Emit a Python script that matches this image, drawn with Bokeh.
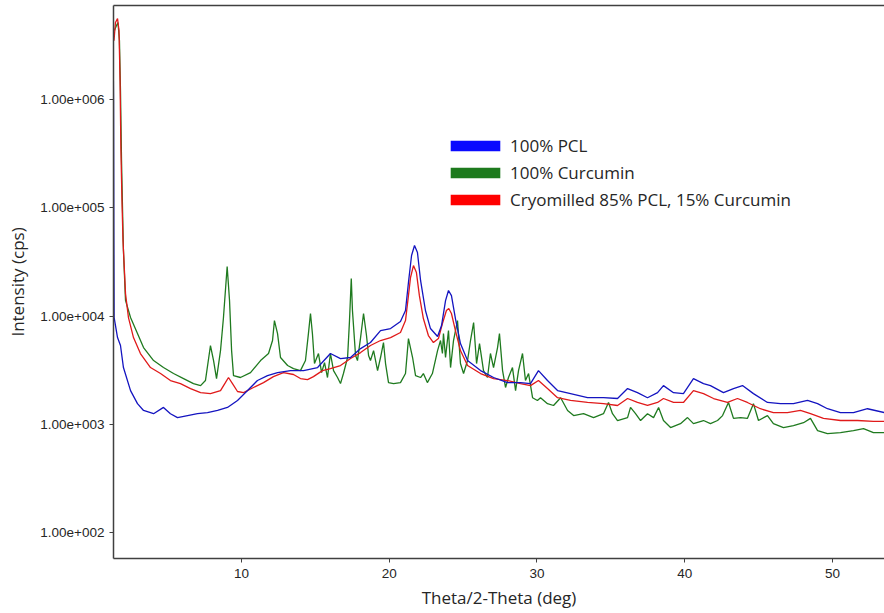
from bokeh.plotting import figure
from bokeh.models import (Range1d, FixedTicker, CustomJSTickFormatter, LinearAxis,
                          Legend, LegendItem)
from bokeh.embed import file_html
from bokeh.resources import INLINE

# ---------------- data ----------------
theta_pcl = [1.30, 1.34, 1.36, 1.38, 1.61, 1.81, 2.01, 2.49, 2.96, 3.37, 4.05, 4.72, 5.19, 5.67,
             6.35, 7.02, 7.70, 8.38, 9.05, 9.73, 10.41, 11.08, 11.76, 12.44, 13.32, 14.20, 15.15,
             16.02, 16.70, 17.38, 18.06, 18.73, 19.41, 20.09, 20.76, 21.10, 21.30, 21.51, 21.71,
             21.91, 22.12, 22.45, 22.79, 23.27, 23.54, 23.81, 24.01, 24.21, 24.48, 24.82, 25.30,
             26.18, 27.06, 28.00, 28.88, 29.56, 30.10, 30.71, 31.39, 32.27, 33.42, 34.50, 35.45,
             36.13, 36.80, 37.48, 38.16, 38.56, 39.24, 39.91, 40.59, 41.27, 41.74, 42.62, 43.30,
             43.91, 44.65, 45.60, 46.48, 47.36, 48.31, 48.99, 49.66, 50.54, 51.42, 52.37, 53.52]
int_pcl = [5.0e6, 9.8e5, 6.2e4, 9730, 6360, 5370, 3360, 2060, 1560, 1350, 1260, 1440, 1260, 1160,
           1210, 1260, 1290, 1350, 1440, 1670, 2060, 2550, 2830, 3020, 3150, 3150, 3360,
           4530, 4070, 4160, 5030, 5720, 7380, 7700, 8930, 11300, 20500, 36400, 45000,
           38700, 21400, 11300, 7700, 6500, 8200, 13960, 17300, 15500, 9530, 5600, 3900,
           3150, 2720, 2440, 2440, 2390, 3150, 2550, 2060, 1930, 1770, 1770, 1740,
           2150, 1970, 1770, 1970, 2290, 1970, 1930, 2660, 2390, 2290, 1970, 2150,
           2290, 1930, 1600, 1560, 1560, 1670, 1560, 1400, 1290, 1290, 1400, 1290]

theta_cur = [1.40, 1.54, 1.64, 1.74, 1.81, 1.88, 1.95, 2.01, 2.15, 2.49, 2.96, 3.37, 4.05, 4.72,
             5.40, 6.08, 6.75, 7.23, 7.56, 7.90, 8.11, 8.31, 8.58, 8.78, 9.03, 9.19, 9.33, 9.46,
             9.93, 10.61, 11.29, 11.83, 12.10, 12.23, 12.44, 12.64, 13.12, 13.52, 13.99, 14.33,
             14.53, 14.67, 14.80, 14.94, 15.21, 15.42, 15.62, 15.82, 16.02, 16.23, 16.50, 16.70,
             16.90, 17.18, 17.31, 17.43, 17.51, 17.72, 17.85, 18.06, 18.26, 18.46, 18.60, 18.73,
             18.94, 19.21, 19.41, 19.61, 19.75, 19.95, 20.29, 20.76, 21.10, 21.30, 21.58, 21.78,
             22.12, 22.31, 22.58, 22.92, 23.27, 23.47, 23.60, 23.67, 23.81, 24.01, 24.15, 24.35,
             24.62, 24.82, 25.03, 25.30, 25.50, 25.71, 25.91, 26.11, 26.38, 26.65, 26.85, 27.06,
             27.33, 27.46, 27.67, 27.87, 28.07, 28.34, 28.55, 28.75, 29.02, 29.22, 29.43, 29.70,
             30.03, 30.24, 30.71, 31.12, 31.60, 32.07, 32.48, 33.15, 33.83, 34.50, 34.84, 35.11,
             35.45, 36.13, 36.33, 36.67, 37.01, 37.48, 37.89, 38.23, 38.56, 39.04, 39.71, 40.19,
             40.59, 41.27, 41.74, 42.22, 42.56, 42.96, 43.30, 43.78, 44.24, 44.65, 44.99, 45.60,
             46.00, 46.68, 47.36, 48.04, 48.51, 48.99, 49.66, 50.54, 51.42, 52.10, 52.77, 53.52]
int_cur = [4.35e6, 4.83e6, 5.15e6, 3.52e6, 1.21e6, 2.74e5, 9.5e4, 4.04e4, 1.40e4, 9730, 6920, 5140, 3900, 3360,
           2960, 2660, 2390, 2290, 2550, 5370, 3900, 2660, 4820, 9730, 28800, 13960, 4820, 2830,
           2720, 3020, 3900, 4530, 5970, 9120, 6920, 4160, 3510, 3290, 3150, 3900,
           6920, 10600, 6920, 3660, 4530, 3020, 3730, 2720, 4530, 3150, 2720, 2390,
           2960, 4160, 9120, 22300, 11300, 4340, 3900, 6360, 10600, 6640, 4340, 3900,
           4820, 3150, 4160, 5720, 3660, 2440, 2390, 2440, 2960, 6220, 4160, 2830,
           2720, 2960, 2440, 2960, 4820, 5970, 4530, 6920, 4160, 7380, 3360, 5970,
           9120, 3660, 2960, 3900, 5970, 8750, 3660, 5600, 3150, 2720, 4530, 3360,
           5140, 6920, 3150, 2200, 2720, 3360, 2060, 3150, 4530, 2550, 2960, 1770,
           1670, 1770, 1560, 1500, 1770, 1350, 1210, 1260, 1160, 1260, 1600, 1260,
           1090, 1160, 1440, 1260, 1090, 1260, 1160, 1440, 1090, 938, 1020, 1160,
           1020, 1090, 1020, 1090, 1210, 1600, 1140, 1160, 1140, 1560, 1090, 1210,
           1020, 938, 980, 1040, 1140, 880, 826, 843, 880, 918, 843, 843]

theta_mix = [1.37, 1.47, 1.61, 1.71, 1.78, 1.84, 1.91, 1.98, 2.15, 2.35, 2.69, 3.16, 3.84, 4.52,
             5.19, 5.87, 6.55, 7.23, 7.90, 8.58, 8.91, 9.12, 9.39, 9.73, 10.14, 10.81, 11.49,
             12.16, 12.84, 13.52, 13.99, 14.47, 14.87, 15.48, 16.02, 16.70, 17.38, 18.06, 18.73,
             19.41, 20.09, 20.76, 21.10, 21.30, 21.44, 21.64, 21.84, 22.04, 22.31, 22.65, 22.99,
             23.33, 23.60, 23.87, 24.03, 24.21, 24.48, 24.82, 25.30, 26.18, 27.06, 28.00, 28.88,
             29.56, 30.10, 30.71, 31.39, 32.27, 33.42, 34.50, 35.45, 36.13, 36.80, 37.48, 38.16,
             38.56, 39.24, 39.91, 40.59, 41.27, 41.95, 42.89, 43.57, 44.24, 45.12, 46.00, 46.95,
             47.83, 48.51, 49.39, 50.54, 51.69, 52.77, 53.52]
int_mix = [3.5e6, 5.15e6, 5.6e6, 4.35e6, 1.5e6, 3.39e5, 1.17e5, 5.0e4, 1.62e4, 9730, 6360, 4530, 3360, 2960,
           2550, 2390, 2150, 1970, 1930, 2060, 2440, 2720, 2390, 2020, 1970, 2200, 2440,
           2770, 3020, 2900, 2660, 2600, 2770, 3150, 3290, 3510, 4070, 4620, 5370,
           5970, 6360, 7080, 9120, 15500, 22800, 29400, 25300, 15500, 9530, 6640, 5720,
           6220, 8570, 11300, 11800, 10600, 7380, 4820, 3510, 2960, 2660, 2550, 2390,
           2290, 2550, 2150, 1770, 1670, 1600, 1560, 1500, 1740, 1600, 1500, 1600,
           1740, 1600, 1600, 2060, 1930, 1740, 1600, 1740, 1600, 1400, 1290, 1290,
           1350, 1260, 1140, 1090, 1090, 1070, 1070]

series_names = ["100% PCL", "100% Curcumin", "Cryomilled 85% PCL, 15% Curcumin"]
x_ticks = [10, 20, 30, 40, 50]
y_ticks = [1e2, 1e3, 1e4, 1e5, 1e6]

# ---------------- styling ----------------
C_BLUE, C_GREEN, C_RED = "#1414c0", "#1f7a1f", "#e01a1a"
SW_BLUE, SW_GREEN, SW_RED = "#0a0aff", "#1d7a1d", "#ff0000"
AXIS_C = "#404040"
TXT_C = "#262626"

p = figure(width=884, height=613,
           x_range=Range1d(1.337, 53.52), y_range=Range1d(58, 7.4e6),
           y_axis_type="log", output_backend="svg", toolbar_location=None,
           min_border_left=113, min_border_right=0, min_border_top=5, min_border_bottom=55)
p.background_fill_color = "white"
p.border_fill_color = "white"
p.outline_line_color = None
p.grid.visible = False

p.line(theta_cur, int_cur, line_color=C_GREEN, line_width=1.3)
p.line(theta_mix, int_mix, line_color=C_RED, line_width=1.3)
p.line(theta_pcl, int_pcl, line_color=C_BLUE, line_width=1.3)

# axes
xa = p.xaxis[0]
xa.ticker = FixedTicker(ticks=x_ticks, minor_ticks=[])
xa.axis_label = "Theta/2-Theta (deg)"
ya = p.yaxis[0]
ya.ticker = FixedTicker(ticks=y_ticks, minor_ticks=[])
ya.formatter = CustomJSTickFormatter(code="""
const e = Math.round(Math.log10(tick));
return '1.00e' + (e < 0 ? '-' : '+') + String(Math.abs(e)).padStart(3, '0');
""")
ya.axis_label = "Intensity (cps)"
for ax in (xa, ya):
    ax.axis_line_color = AXIS_C
    ax.axis_line_width = 1.5
    ax.major_tick_line_color = AXIS_C
    ax.major_tick_in = 0
    ax.major_tick_out = 4
    ax.minor_tick_line_color = None
    ax.major_label_text_font = "Liberation Sans"
    ax.major_label_text_font_size = "13.5px"
    ax.major_label_text_color = TXT_C
    ax.axis_label_text_font = "Open Sans"
    ax.axis_label_text_font_size = "17px"
    ax.axis_label_text_font_style = "normal"
    ax.axis_label_text_color = TXT_C
ya.axis_label_standoff = 8
xa.axis_label_standoff = 5
xa.major_label_standoff = 6

top = LinearAxis(ticker=FixedTicker(ticks=[]), axis_line_color=AXIS_C, axis_line_width=1.5,
                 major_tick_line_color=None, minor_tick_line_color=None,
                 major_label_text_font_size="0px")
p.add_layout(top, "above")

# legend swatches (one off-range box each, only used for the legend key)
sw_left, sw_right, sw_bottom, sw_top = [-10], [-9], [1], [2]
sw_b = p.quad(left=sw_left, right=sw_right, top=sw_top, bottom=sw_bottom, fill_color=SW_BLUE, line_color=None)
sw_g = p.quad(left=sw_left, right=sw_right, top=sw_top, bottom=sw_bottom, fill_color=SW_GREEN, line_color=None)
sw_r = p.quad(left=sw_left, right=sw_right, top=sw_top, bottom=sw_bottom, fill_color=SW_RED, line_color=None)
legend = Legend(items=[LegendItem(label=series_names[0], renderers=[sw_b]),
                       LegendItem(label=series_names[1], renderers=[sw_g]),
                       LegendItem(label=series_names[2], renderers=[sw_r])],
                location=(331, 347), padding=0, margin=0, spacing=4,
                glyph_width=62, glyph_height=13, label_height=22, label_standoff=4,
                label_text_font="Open Sans", label_text_font_size="17px",
                label_text_color=TXT_C, border_line_color=None,
                background_fill_alpha=0)
p.add_layout(legend)

open("out.html", "w").write(file_html(p, INLINE))
